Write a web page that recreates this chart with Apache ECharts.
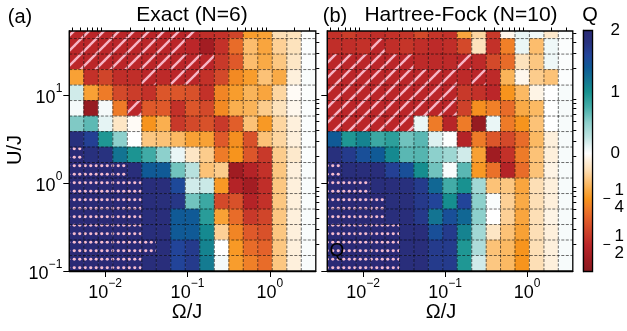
<!DOCTYPE html>
<html>
<head>
<meta charset="utf-8">
<script src="https://cdn.jsdelivr.net/npm/echarts@6/dist/echarts.min.js"></script>
<style>
  html, body { margin: 0; background: #fff; }
  #chart { width: 627px; height: 331px; }
</style>
</head>
<body>
<div id="chart"></div>
<script>
// cell edges of the Omega/J and U/J grids (ratio 1.5)
const omegaEdges = [0.00367, 0.0055, 0.00826, 0.0124, 0.0186, 0.0279, 0.0418, 0.0627, 0.0941,
  0.141, 0.212, 0.318, 0.476, 0.714, 1.07, 1.61, 2.41, 3.62];
const uEdges = [0.1, 0.15, 0.225, 0.3375, 0.506, 0.759, 1.139, 1.709, 2.563, 3.844, 5.767,
  8.65, 12.97, 19.46, 29.19, 43.79, 65.68];
const uMax = 53.4;

const xMajor = [0.01, 0.1, 1];
const xMinor = [0.004, 0.005, 0.006, 0.007, 0.008, 0.009, 0.02, 0.03, 0.04, 0.05, 0.06, 0.07, 0.08, 0.09,
  0.2, 0.3, 0.4, 0.5, 0.6, 0.7, 0.8, 0.9, 2, 3];
const yMajor = [0.1, 1, 10];
const yMinor = [0.2, 0.3, 0.4, 0.5, 0.6, 0.7, 0.8, 0.9, 2, 3, 4, 5, 6, 7, 8, 9, 20, 30, 40, 50];

// Q values, rows from top (largest U) to bottom, 17 columns in Omega
const qExact = [
  [-0.5, -0.5, -0.5, -0.5, -0.5, -0.5, -0.5, -0.5, -0.5, -0.48, -0.47, -0.42, -0.23, -0.22, -0.09, -0.08, 0.02],
  [-0.5, -0.5, -0.5, -0.5, -0.5, -0.5, -0.5, -0.5, -0.5, -0.57, -0.47, -0.33, -0.16, -0.21, -0.12, -0.08, 0.02],
  [-0.5, -0.5, -0.5, -0.5, -0.5, -0.5, -0.5, -0.5, -0.5, -0.5, -0.45, -0.37, -0.16, -0.2, -0.14, -0.07, 0.02],
  [-0.22, -0.47, -0.42, -0.48, -0.48, -0.5, -0.49, -0.5, -0.5, -0.47, -0.41, -0.27, -0.23, -0.15, -0.2, -0.04, 0.03],
  [0.2, -0.22, -0.3, -0.41, -0.44, -0.47, -0.38, -0.38, -0.39, -0.47, -0.28, -0.23, -0.18, -0.21, -0.11, -0.01, 0.02],
  [0.05, -0.61, 0.05, -0.3, -0.5, -0.37, -0.37, -0.47, -0.38, -0.41, -0.27, -0.19, -0.18, -0.13, -0.08, -0.02, 0.02],
  [0.55, 0.67, 0.12, -0.07, -0.01, -0.25, -0.19, -0.45, -0.41, -0.39, -0.45, -0.36, -0.15, -0.24, -0.11, -0.04, 0.02],
  [1.85, 1.65, 0.95, 0.5, 0.0, -0.14, -0.15, -0.17, -0.22, -0.22, -0.37, -0.26, -0.39, -0.15, -0.11, -0.04, 0.02],
  [2.0, 1.85, 1.8, 1.2, 0.97, 0.78, 0.5, 0.1, -0.07, -0.13, -0.3, -0.25, -0.38, -0.45, -0.13, -0.06, 0.02],
  [2.0, 2.0, 2.0, 2.0, 1.9, 1.4, 1.4, 0.6, 0.3, -0.15, -0.13, -0.58, -0.52, -0.47, -0.14, -0.04, 0.03],
  [2.0, 2.0, 2.0, 2.0, 2.0, 1.9, 1.9, 1.55, 0.2, 0.22, -0.24, -0.52, -0.57, -0.48, -0.14, -0.04, 0.03],
  [2.0, 2.0, 2.0, 2.0, 2.0, 1.9, 1.88, 1.75, 0.6, 0.8, -0.41, -0.39, -0.52, -0.47, -0.14, -0.04, 0.03],
  [2.0, 2.0, 2.0, 2.0, 2.0, 1.9, 1.9, 1.4, 1.4, 0.9, -0.22, -0.33, -0.45, -0.42, -0.14, -0.04, 0.03],
  [2.0, 2.0, 2.0, 2.0, 2.0, 1.9, 1.9, 1.4, 1.4, 1.05, -0.12, -0.28, -0.37, -0.39, -0.14, -0.04, 0.03],
  [2.0, 2.0, 2.0, 2.0, 2.0, 2.0, 1.9, 1.6, 1.7, 1.1, 0.0, -0.24, -0.33, -0.35, -0.14, -0.04, 0.03],
  [2.0, 2.0, 2.0, 2.0, 2.0, 1.9, 1.9, 1.6, 1.7, 1.15, 0.06, -0.23, -0.29, -0.33, -0.14, -0.04, 0.03]
];
const qHF = [
  [-0.47, -0.44, -0.47, -0.48, -0.47, -0.46, -0.41, -0.46, -0.47, -0.21, -0.11, -0.45, -0.02, 0.1, 0.08, -0.06, 0.02],
  [-0.48, -0.48, -0.47, -0.5, -0.48, -0.46, -0.48, -0.49, -0.48, -0.41, -0.08, -0.47, -0.29, 0.1, -0.16, 0.08, 0.02],
  [-0.5, -0.5, -0.5, -0.5, -0.5, -0.5, -0.49, -0.49, -0.49, -0.5, -0.49, -0.41, -0.33, -0.08, -0.14, 0.08, 0.02],
  [-0.5, -0.5, -0.5, -0.5, -0.5, -0.5, -0.5, -0.5, -0.5, -0.49, -0.5, -0.49, -0.18, -0.02, -0.13, -0.15, 0.02],
  [-0.5, -0.5, -0.5, -0.5, -0.5, -0.5, -0.5, -0.5, -0.5, -0.45, -0.47, -0.5, -0.25, -0.17, -0.03, 0.0, 0.04],
  [-0.5, -0.5, -0.5, -0.5, -0.5, -0.5, -0.5, -0.5, -0.5, -0.43, -0.26, -0.29, -0.33, -0.2, -0.17, 0.0, 0.04],
  [-0.5, -0.5, -0.5, -0.5, -0.5, -0.5, 0.1, -0.3, -0.51, -0.3, -0.61, 0.1, -0.3, -0.25, -0.15, 0.0, 0.04],
  [1.4, 0.95, 1.1, 0.8, 0.88, 0.6, 0.68, 0.15, 0.01, -0.52, -0.3, -0.38, -0.41, -0.33, -0.17, -0.04, 0.04],
  [1.85, 1.7, 1.5, 1.4, 1.05, 0.68, 0.7, 0.5, 0.42, 0.2, -0.22, -0.58, -0.47, -0.3, -0.15, -0.04, 0.04],
  [2.0, 1.9, 1.9, 1.9, 1.65, 1.5, 1.02, 0.6, 0.03, 0.68, -0.24, -0.32, -0.52, -0.33, -0.15, -0.03, 0.04],
  [2.0, 2.0, 2.0, 1.9, 1.9, 1.85, 1.7, 1.3, 0.77, 1.0, 0.4, -0.15, -0.14, -0.21, -0.09, -0.04, 0.04],
  [2.0, 2.0, 2.0, 2.0, 1.88, 1.88, 1.72, 1.6, 1.02, 1.6, 0.5, 0.03, -0.12, -0.2, -0.09, -0.04, 0.04],
  [2.0, 2.0, 2.0, 2.0, 1.9, 1.9, 1.72, 1.2, 1.5, 1.3, 0.5, 0.0, -0.12, -0.21, -0.09, -0.03, 0.04],
  [2.0, 2.0, 2.0, 2.0, 2.0, 1.9, 1.9, 1.5, 1.7, 1.1, 0.4, -0.07, -0.15, -0.22, -0.09, -0.04, 0.04],
  [2.0, 2.0, 2.0, 2.0, 2.0, 1.9, 1.9, 1.7, 1.7, 0.95, 0.35, -0.15, -0.17, -0.25, -0.09, -0.04, 0.04],
  [2.0, 2.0, 2.0, 2.0, 2.0, 1.9, 1.9, 1.7, 1.7, 0.95, 0.2, -0.14, -0.17, -0.25, -0.09, -0.04, 0.04]
];

// '/' hatched cells, 'o' dotted cells
const maskExact = [
  '/////////--------',
  '////////---------',
  '//////////-------',
  '-----/-//--------',
  '-----------------',
  '----/------------',
  '-----------------',
  '-----------------',
  'o----------------',
  'oooo-------------',
  'ooooo------------',
  'ooooo------------',
  'ooooo------------',
  'ooooo------------',
  'oooooo-----------',
  'ooooo------------'
];
const maskHF = [
  '-----------------',
  '---/-------------',
  '//////---/-------',
  '/////////-/------',
  '/////////--------',
  '/////////--------',
  '//////-----------',
  '-----------------',
  '-----------------',
  'o----------------',
  'ooo--------------',
  'oooo-------------',
  'oooo-------------',
  'ooooo------------',
  'ooooo------------',
  'ooooo------------'
];

// colour bar: two-slope scale around Q = 0
const Q_MIN = -0.645, Q_MAX = 2, N_MID = 0.49;
const cbTicks = [2, 1, 0, -0.25, -0.5];
const cbLabels = ['2', '1', '0', '{f|1}\n{f|4}', '{f|1}\n{f|2}'];
const stopQ = [-0.645, -0.58, -0.5, -0.42, -0.35, -0.29, -0.25, -0.2, -0.15, -0.09, -0.04, 0,
  0.12, 0.25, 0.5, 0.75, 1.0, 1.2, 1.4, 1.6, 1.8, 2.0];
const stopColor = ['#8a1a1f', '#a01c22', '#bb2629', '#d0452a', '#e4622a', '#f08028', '#f7941d',
  '#f9aa45', '#fcc277', '#fddfb6', '#fef0dc', '#ffffff', '#e6f4f4', '#c2e5e3', '#8ed0cc', '#46aea9',
  '#16918f', '#137492', '#0f5a96', '#23449a', '#28327f', '#2a2a76'];

const FONT = '"Liberation Sans", Arial, sans-serif';

function norm(q) {
  return q >= 0 ? N_MID + (1 - N_MID) * q / Q_MAX : N_MID * (1 - q / Q_MIN);
}
function unnorm(n) {
  return n >= N_MID ? (n - N_MID) / (1 - N_MID) * Q_MAX : Q_MIN * (1 - n / N_MID);
}
function colorOfQ(q) {
  for (let k = 1; k < stopQ.length; k++) {
    if (q <= stopQ[k]) {
      const t = (q - stopQ[k - 1]) / (stopQ[k] - stopQ[k - 1]);
      return echarts.color.lerp(Math.max(0, Math.min(1, t)), [stopColor[k - 1], stopColor[k]]);
    }
  }
  return stopColor[stopColor.length - 1];
}
const vmColors = [];
for (let k = 0; k <= 100; k++) vmColors.push(colorOfQ(unnorm(k / 100)));

function makeHatch() {
  const s = 15, c = document.createElement('canvas');
  c.width = s; c.height = s;
  const g = c.getContext('2d');
  g.strokeStyle = '#f7b6c6';
  g.lineWidth = 2.4;
  [[-s, s, s, -s], [0, s, s, 0], [0, 2 * s, 2 * s, 0]].forEach(l => {
    g.beginPath(); g.moveTo(l[0], l[1]); g.lineTo(l[2], l[3]); g.stroke();
  });
  return { image: c, repeat: 'repeat' };
}
function makeDots() {
  const w = 11, h = 17, c = document.createElement('canvas');
  c.width = w; c.height = h;
  const g = c.getContext('2d');
  g.fillStyle = '#f6bccf';
  [[2.75, 4.25], [8.25, 4.25], [2.75, 12.75], [8.25, 12.75]].forEach(p => {
    g.beginPath(); g.ellipse(p[0], p[1], 1.6, 1.45, 0, 0, Math.PI * 2); g.fill();
  });
  return { image: c, repeat: 'repeat' };
}
const hatch = makeHatch();
const dots = makeDots();

function cellSeries(q, mask, idx) {
  const data = [];
  const nRows = q.length;
  q.forEach((row, r) => {
    const j = nRows - 1 - r;
    row.forEach((v, i) => {
      const m = mask[r][i] === '/' ? 1 : mask[r][i] === 'o' ? 2 : 0;
      data.push([Math.sqrt(omegaEdges[i] * omegaEdges[i + 1]), Math.sqrt(uEdges[j] * uEdges[j + 1]), norm(v), i, j, m]);
    });
  });
  return {
    type: 'custom',
    xAxisIndex: idx * 2,
    yAxisIndex: idx * 2,
    clip: true,
    encode: { x: 0, y: 1 },
    data: data,
    renderItem: function (params, api) {
      const i = api.value(3), j = api.value(4), m = api.value(5);
      const a = api.coord([omegaEdges[i], uEdges[j + 1]]);
      const b = api.coord([omegaEdges[i + 1], uEdges[j]]);
      const shape = { x: a[0], y: a[1], width: b[0] - a[0], height: b[1] - a[1] };
      const color = api.visual('color');
      const children = [{ type: 'rect', shape: shape, style: { fill: color, stroke: color, lineWidth: 0.5 } }];
      if (m) children.push({ type: 'rect', shape: shape, style: { fill: m === 1 ? hatch : dots } });
      return { type: 'group', children: children };
    }
  };
}

function gridLineSeries(idx) {
  return {
    type: 'custom',
    xAxisIndex: idx * 2,
    yAxisIndex: idx * 2,
    silent: true,
    z: 3,
    data: [[omegaEdges[8], uEdges[8]]],
    renderItem: function (params, api) {
      const children = [];
      const st = { stroke: 'rgba(0,0,0,0.72)', lineWidth: 0.8, lineDash: [3, 1.5] };
      for (let i = 1; i < omegaEdges.length - 1; i++) {
        const p = api.coord([omegaEdges[i], uEdges[0]]), q = api.coord([omegaEdges[i], uMax]);
        children.push({ type: 'line', shape: { x1: p[0], y1: p[1], x2: q[0], y2: q[1] }, style: st });
      }
      for (let j = 1; j < uEdges.length && uEdges[j] < uMax; j++) {
        const p = api.coord([omegaEdges[0], uEdges[j]]), q = api.coord([omegaEdges[omegaEdges.length - 1], uEdges[j]]);
        children.push({ type: 'line', shape: { x1: p[0], y1: p[1], x2: q[0], y2: q[1] }, style: st });
      }
      return { type: 'group', children: children };
    }
  };
}

function expLabel(v) {
  const e = Math.round(Math.log10(v));
  return '{b|10}{s|' + String(e).replace('-', '\u2212') + '}';
}
const expRich = {
  b: { fontSize: 18, fontFamily: FONT, color: '#000', lineHeight: 24, verticalAlign: 'bottom' },
  s: { fontSize: 12, fontFamily: FONT, color: '#000', lineHeight: 12, verticalAlign: 'top' }
};

function logX(gridIndex, major) {
  return {
    type: 'log', gridIndex: gridIndex, min: omegaEdges[0], max: omegaEdges[omegaEdges.length - 1],
    splitLine: { show: false },
    axisLine: { show: major, onZero: false, lineStyle: { color: '#000', width: 1.3 } },
    axisTick: { show: true, length: major ? 6 : 3.5, customValues: major ? xMajor : xMinor,
      lineStyle: { color: '#000', width: 1 } },
    axisLabel: major ? { show: true, customValues: xMajor, formatter: expLabel, rich: expRich, margin: 7 } : { show: false }
  };
}
function logY(gridIndex, major, labels) {
  return {
    type: 'log', gridIndex: gridIndex, min: uEdges[0], max: uMax,
    splitLine: { show: false },
    axisLine: { show: major, onZero: false, lineStyle: { color: '#000', width: 1.3 } },
    axisTick: { show: true, length: major ? 6 : 3.5, customValues: major ? yMajor : yMinor,
      lineStyle: { color: '#000', width: 1 } },
    axisLabel: (major && labels) ? { show: true, customValues: yMajor, formatter: expLabel, rich: expRich, margin: 7 } : { show: false }
  };
}

const cbNorm = cbTicks.map(norm);
function cbLabel(v) {
  for (let k = 0; k < cbNorm.length; k++) if (Math.abs(cbNorm[k] - v) < 1e-6) return cbLabels[k];
  return '';
}

const gridBox = { show: true, borderColor: '#000', borderWidth: 1.3, backgroundColor: 'transparent', z: 5 };

const option = {
  animation: false,
  textStyle: { fontFamily: FONT },
  grid: [
    Object.assign({ left: 69.3, top: 31, width: 246.5, height: 240 }, gridBox),
    Object.assign({ left: 327.3, top: 31, width: 245.5, height: 240 }, gridBox),
    Object.assign({ left: 583.5, top: 30.5, width: 12, height: 241 }, gridBox)
  ],
  xAxis: [
    logX(0, true), logX(0, false), logX(1, true), logX(1, false),
    { type: 'value', gridIndex: 2, min: 0, max: 1, show: false }
  ],
  yAxis: [
    logY(0, true, true), logY(0, false), logY(1, true, false), logY(1, false),
    {
      type: 'value', gridIndex: 2, min: 0, max: 1, position: 'right',
      splitLine: { show: false },
      axisLine: { show: true, lineStyle: { color: '#000', width: 1.3 } },
      axisTick: { show: true, length: 6, customValues: cbNorm, lineStyle: { color: '#000', width: 1 } },
      axisLabel: {
        show: true, customValues: cbNorm, formatter: cbLabel, margin: 18, align: 'left',
        fontSize: 17, color: '#000', fontFamily: FONT,
        rich: { f: { fontSize: 17, lineHeight: 17, color: '#000', fontFamily: FONT, padding: [0, 0, 0, 4] } }
      }
    },
    {
      type: 'value', gridIndex: 2, min: 0, max: 1, position: 'right',
      splitLine: { show: false }, axisLine: { show: false }, axisTick: { show: false },
      axisLabel: {
        show: true, customValues: [norm(-0.25), norm(-0.5)], formatter: () => '\u2212',
        margin: 10, align: 'left', fontSize: 14, color: '#000', fontFamily: FONT
      }
    }
  ],
  visualMap: {
    type: 'continuous', show: false, min: 0, max: 1, dimension: 2, seriesIndex: [0, 1],
    inRange: { color: vmColors }
  },
  series: [
    cellSeries(qExact, maskExact, 0),
    cellSeries(qHF, maskHF, 1),
    gridLineSeries(0),
    gridLineSeries(1),
    {
      type: 'custom', xAxisIndex: 4, yAxisIndex: 4, silent: true,
      data: [[0.5, 0.5]],
      renderItem: function (params, api) {
        const a = api.coord([0, 1]), b = api.coord([1, 0]);
        return {
          type: 'rect',
          shape: { x: a[0], y: a[1], width: b[0] - a[0], height: b[1] - a[1] },
          style: {
            fill: {
              type: 'linear', x: 0, y: 1, x2: 0, y2: 0,
              colorStops: stopQ.map((q, k) => ({ offset: norm(q), color: stopColor[k] }))
            }
          }
        };
      }
    }
  ],
  graphic: [
    { type: 'text', x: 20, y: 17, style: { text: '(a)', font: '20px ' + FONT, fill: '#000', align: 'center', verticalAlign: 'middle' } },
    { type: 'text', x: 192, y: 15, style: { text: 'Exact (N=6)', font: '21px ' + FONT, fill: '#000', align: 'center', verticalAlign: 'middle' } },
    { type: 'text', x: 335, y: 16, style: { text: '(b)', font: '20px ' + FONT, fill: '#000', align: 'center', verticalAlign: 'middle' } },
    { type: 'text', x: 461, y: 15, style: { text: 'Hartree-Fock (N=10)', font: '21px ' + FONT, fill: '#000', align: 'center', verticalAlign: 'middle' } },
    { type: 'text', x: 590, y: 15, style: { text: 'Q', font: '20px ' + FONT, fill: '#000', align: 'center', verticalAlign: 'middle' } },
    { type: 'text', x: 15, y: 150, rotation: Math.PI / 2, style: { text: 'U/J', font: '20px ' + FONT, fill: '#000', align: 'center', verticalAlign: 'middle' } },
    { type: 'text', x: 187, y: 312, style: { text: '\u03a9/J', font: '20px ' + FONT, fill: '#000', align: 'center', verticalAlign: 'middle' } },
    { type: 'text', x: 441, y: 312, style: { text: '\u03a9/J', font: '20px ' + FONT, fill: '#000', align: 'center', verticalAlign: 'middle' } },
    { type: 'text', x: 337, y: 251, z: 100, style: { text: 'Q', font: '19px ' + FONT, fill: '#000', align: 'center', verticalAlign: 'middle' } }
  ]
};

const chart = echarts.init(document.getElementById('chart'), null, { renderer: 'canvas' });
chart.setOption(option);
</script>
</body>
</html>
